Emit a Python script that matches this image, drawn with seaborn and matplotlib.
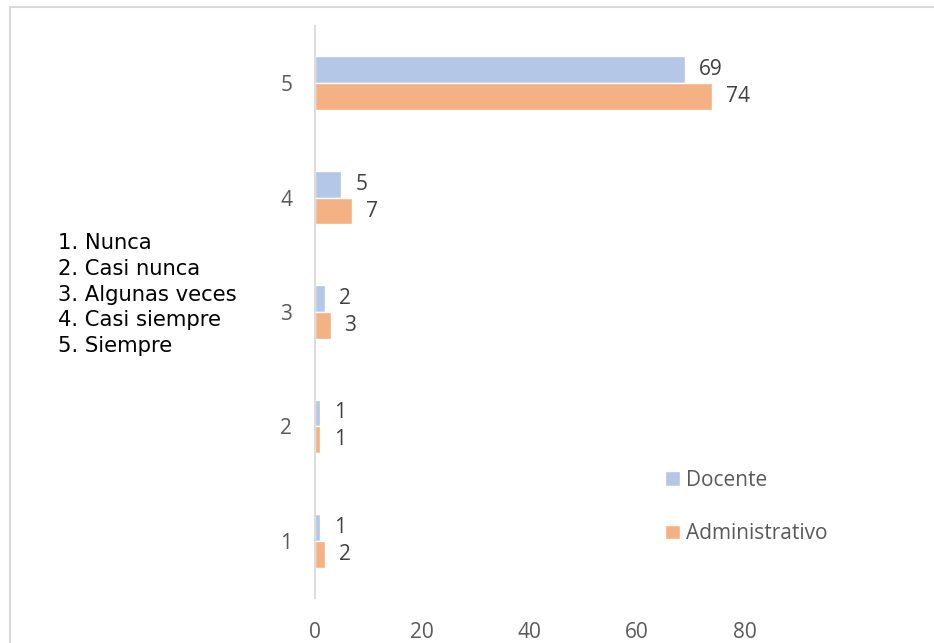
import matplotlib
matplotlib.use("Agg")
import matplotlib.pyplot as plt
from matplotlib.lines import Line2D
import seaborn as sns
import pandas as pd

# Response scale (1-5) and counts per group
categories = ["5", "4", "3", "2", "1"]
docente = [69, 5, 2, 1, 1]
administrativo = [74, 7, 3, 1, 2]
series_names = ["Docente", "Administrativo"]
colors = ["#B4C7E7", "#F4B183"]
x_ticks = [0, 20, 40, 60, 80]
scale_labels = ["1. Nunca", "2. Casi nunca", "3. Algunas veces",
                "4. Casi siempre", "5. Siempre"]

df = pd.DataFrame({
    "categoria": categories * 2,
    "valor": docente + administrativo,
    "grupo": [series_names[0]] * len(categories) + [series_names[1]] * len(categories),
})

sns.set_theme(style="white")
plt.rcParams["font.family"] = ["Open Sans", "DejaVu Sans"]

W, H = 934, 643
fig = plt.figure(figsize=(W / 100, H / 100), dpi=100)
ax = fig.add_axes([314.5 / W, 1 - 598 / H, 537.5 / W, 572 / H])

sns.barplot(data=df, y="categoria", x="valor", hue="grupo", order=categories,
            hue_order=series_names, palette=colors, orient="h", width=0.47,
            saturation=1, ax=ax, legend=True)

ax.set_xlim(0, 100)
ax.set_xticks(x_ticks)
ax.set_xlabel("")
ax.set_ylabel("")
for s in ["top", "right", "bottom"]:
    ax.spines[s].set_visible(False)
ax.spines["left"].set_color("#D9D9D9")
ax.spines["left"].set_linewidth(1.3)
ax.tick_params(axis="both", length=0, labelsize=15, colors="#595959")
ax.tick_params(axis="y", pad=16)
ax.tick_params(axis="x", pad=17)

# value labels at the end of each bar
for cont in ax.containers:
    for bar in cont:
        v = bar.get_width()
        ax.annotate(f"{v:g}", (v, bar.get_y() + bar.get_height() / 2),
                    xytext=(10, 0), textcoords="offset points",
                    ha="left", va="center", fontsize=15, color="#404040")

# legend
handles, labels = ax.get_legend_handles_labels()
ax.legend(handles, labels, loc="upper left",
          bbox_to_anchor=(665 / W, 1 - 470 / H), bbox_transform=fig.transFigure,
          frameon=False, borderpad=0, borderaxespad=0,
          handlelength=0.7, handleheight=0.7, handletextpad=0.3,
          labelspacing=1.55, fontsize=15, labelcolor="#595959")

# scale description
fig.text(58 / W, 1 - 233 / H, "\n".join(scale_labels), ha="left", va="top",
         fontsize=15.2, color="#000000", family="DejaVu Sans", linespacing=1.36)

# chart-area border
fig.add_artist(Line2D([9.5 / W, 1.0], [1 - 6.5 / H, 1 - 6.5 / H],
                      transform=fig.transFigure, color="#D9D9D9", lw=1.5))
fig.add_artist(Line2D([9.5 / W, 9.5 / W], [0.0, 1 - 6.5 / H],
                      transform=fig.transFigure, color="#D9D9D9", lw=1.5))

fig.savefig("out.png", dpi=100, facecolor="white")
